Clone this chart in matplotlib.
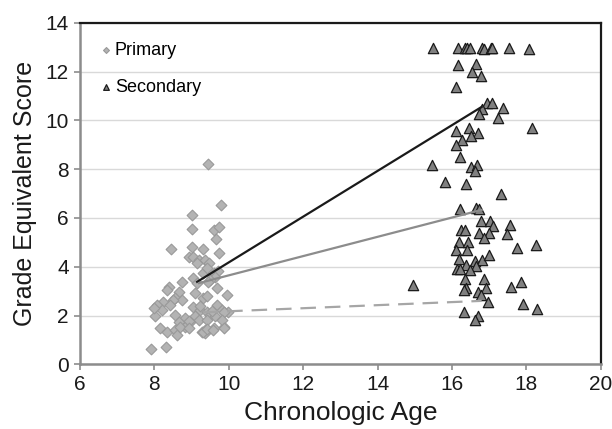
import matplotlib.pyplot as plt

plt.rcParams['font.family'] = ['Liberation Sans', 'DejaVu Sans']

# Primary school children: (age, grade equivalent score)
primary_age = [9.43, 9.79, 9.01, 9.01, 9.61, 9.75, 9.66, 8.44, 9.02, 9.30,
               9.75, 8.92, 9.05, 9.19, 9.37, 9.14, 9.46, 9.32, 9.59, 9.72,
               9.63, 9.50, 9.45, 8.74, 9.05, 9.14, 8.38, 8.33, 8.65, 9.10,
               9.68, 9.95, 9.32, 9.41, 8.56, 8.74, 8.50, 8.24, 8.06, 8.42,
               9.05, 9.68, 8.20, 9.23, 9.41, 9.81, 9.99, 8.02, 8.56, 8.83,
               9.10, 9.50, 9.63, 8.65, 8.96, 9.19, 8.15, 8.33, 8.56, 8.83,
               9.28, 9.37, 9.59, 9.86, 8.60, 9.37, 7.90, 8.31, 9.54, 9.86,
               8.92, 9.41, 9.81, 8.69, 8.92, 9.32, 9.41, 9.57, 9.86, 9.41,
               8.00, 9.23]
primary_score = [8.22, 6.54, 6.12, 5.53, 5.50, 5.61, 5.13, 4.73, 4.82, 4.73,
                 4.55, 4.41, 4.41, 4.28, 4.28, 4.15, 4.15, 3.76, 3.73, 3.84,
                 3.59, 3.46, 3.39, 3.39, 3.53, 3.32, 3.18, 3.05, 2.98, 2.91,
                 3.12, 2.84, 2.71, 2.78, 2.71, 2.64, 2.62, 2.56, 2.43, 2.43,
                 2.36, 2.43, 2.23, 2.23, 2.16, 2.23, 2.16, 1.96, 2.02, 1.89,
                 1.96, 2.02, 1.96, 1.74, 1.74, 1.81, 1.47, 1.34, 1.41, 1.54,
                 1.34, 1.41, 1.47, 1.52, 1.21, 1.27, 0.62, 0.72, 2.20, 2.16,
                 1.78, 1.81, 1.81, 1.54, 1.50, 1.34, 1.45, 1.41, 1.50, 3.95,
                 2.30, 2.40]

# Secondary school children
secondary_age = [15.49, 16.16, 16.34, 16.41, 16.48, 16.82, 16.85, 17.04, 17.09, 17.53,
                 18.07, 16.16, 16.66, 16.53, 16.79, 16.12, 16.95, 17.09, 16.82, 16.74,
                 17.38, 17.25, 18.14, 16.10, 16.47, 16.70, 16.52, 16.26, 16.10, 16.23,
                 15.47, 16.50, 16.68, 16.61, 15.81, 16.38, 17.31, 16.21, 16.65, 16.72,
                 16.77, 17.02, 17.11, 17.56, 16.25, 16.34, 16.74, 16.99, 17.47, 16.86,
                 16.20, 16.44, 16.10, 16.41, 17.74, 18.25, 16.19, 16.61, 16.82, 16.99,
                 16.37, 16.64, 16.14, 16.23, 16.48, 14.95, 16.35, 16.86, 16.37, 16.32,
                 16.93, 16.71, 16.77, 17.58, 17.85, 16.97, 17.91, 18.30, 16.32, 16.70,
                 16.63]
secondary_score = [12.96, 12.96, 12.96, 12.96, 12.96, 12.96, 12.92, 12.96, 12.96, 12.96,
                   12.92, 12.27, 12.30, 11.98, 11.80, 11.38, 10.70, 10.70, 10.47, 10.27,
                   10.50, 10.08, 9.68, 9.58, 9.68, 9.50, 9.36, 9.20, 8.99, 8.49,
                   8.17, 8.08, 8.17, 7.94, 7.49, 7.40, 6.98, 6.37, 6.40, 6.37,
                   5.89, 5.89, 5.65, 5.69, 5.50, 5.50, 5.37, 5.37, 5.34, 5.17,
                   5.01, 5.01, 4.69, 4.69, 4.78, 4.89, 4.32, 4.24, 4.28, 4.48,
                   4.07, 4.04, 3.89, 3.89, 3.87, 3.25, 3.49, 3.49, 3.14, 3.05,
                   3.14, 2.98, 2.84, 3.18, 3.39, 2.56, 2.46, 2.27, 2.16, 2.00,
                   1.81]

# trend lines (start, end)
line_top_x = [9.15, 16.8]
line_top_y = [3.38, 10.55]
line_mid_x = [9.2, 16.8]
line_mid_y = [3.33, 6.33]
line_low_x = [9.3, 16.8]
line_low_y = [2.13, 2.6]

fig = plt.figure(figsize=(6.12, 4.29), dpi=100)
ax = fig.add_axes([0.1307, 0.1508, 0.8508, 0.7962])

ax.scatter(primary_age, primary_score, marker='D', s=30, facecolor='#b3b3b3',
           edgecolor='#999999', linewidth=0.8, zorder=3, label='Primary')
ax.scatter(secondary_age, secondary_score, marker='^', s=55, facecolor='#808080',
           edgecolor='#1a1a1a', linewidth=0.9, zorder=3, label='Secondary')

ax.plot(line_top_x, line_top_y, color='#1a1a1a', lw=1.6, zorder=4)
ax.plot(line_mid_x, line_mid_y, color='#8c8c8c', lw=1.6, zorder=4)
ax.plot(line_low_x, line_low_y, color='#a6a6a6', lw=1.6, dashes=(7, 4), zorder=4)

ax.set_xlim(6, 20)
ax.set_ylim(0, 14)
ax.set_xticks(range(6, 21, 2))
ax.set_yticks(range(0, 15, 2))
ax.grid(axis='y', color='#d9d9d9', lw=1)
ax.set_axisbelow(True)

for side in ['left', 'bottom']:
    ax.spines[side].set_color('#8c8c8c')
    ax.spines[side].set_linewidth(1.8)
for side in ['top', 'right']:
    ax.spines[side].set_color('#1a1a1a')
    ax.spines[side].set_linewidth(1.6)
ax.tick_params(axis='both', length=4, width=1.2, color='#8c8c8c',
               labelsize=15, pad=4, labelcolor='#1a1a1a')

ax.set_xlabel('Chronologic Age', fontsize=19, color='#1a1a1a', labelpad=5)
ax.set_ylabel('Grade Equivalent Score', fontsize=18, color='#1a1a1a', labelpad=6)

leg = ax.legend(loc='upper left', bbox_to_anchor=(0.02, 0.975), frameon=False,
                fontsize=13, markerscale=0.55, handlelength=0.5, handletextpad=0.25,
                labelspacing=1.1, borderaxespad=0.2)

fig.savefig('out.png', dpi=100)
